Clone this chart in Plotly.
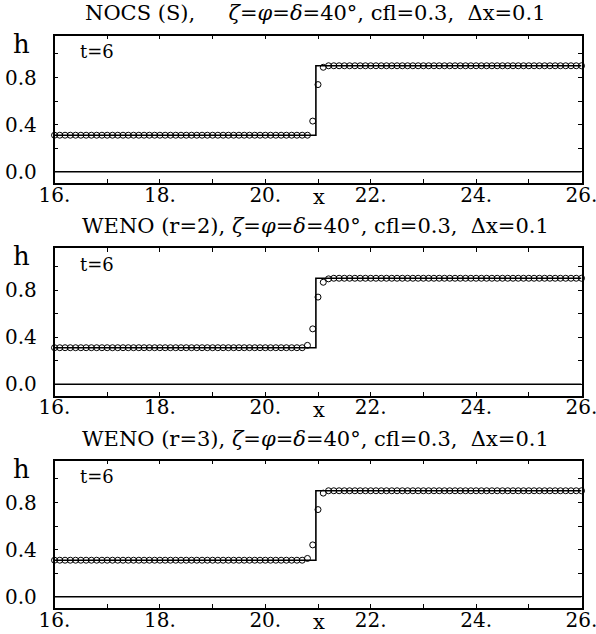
import numpy as np
import plotly.graph_objects as go

# ---- data -------------------------------------------------------------
x_nodes = [round(16.0 + 0.1 * i, 1) for i in range(101)]

h_left = 0.31
h_right = 0.90
x_shock = 20.96

# values of the numerical solution near the jump (other nodes sit on the plateaus)
jump_x = [20.8, 20.9, 21.0, 21.1, 21.2]
nocs_jump = [0.31, 0.43, 0.74, 0.887, 0.90]
weno2_jump = [0.33, 0.47, 0.74, 0.866, 0.895]
weno3_jump = [0.325, 0.44, 0.74, 0.88, 0.90]

titles = [
    "NOCS (S),\u00a0\u00a0\u00a0\u00a0 <i>ζ</i>=<i>φ</i>=<i>δ</i>=40°, cfl=0.3,\u00a0 Δx=0.1",
    "WENO (r=2), <i>ζ</i>=<i>φ</i>=<i>δ</i>=40°, cfl=0.3,\u00a0 Δx=0.1",
    "WENO (r=3), <i>ζ</i>=<i>φ</i>=<i>δ</i>=40°, cfl=0.3,\u00a0 Δx=0.1",
]
time_label = "t=6"

x_tickvals = list(range(16, 27))
x_ticktext = ["16.", "", "18.", "", "20.", "", "22.", "", "24.", "", "26."]
y_tickvals = [0.0, 0.2, 0.4, 0.6, 0.8, 1.0]
y_ticktext = ["0.0", "", "0.4", "", "0.8", ""]

exact_x = [16.0, x_shock, x_shock, 26.0]
exact_h = [h_left, h_left, h_right, h_right]


def numeric_profile(jump_vals):
    out = []
    for xv in x_nodes:
        if xv in jump_x:
            out.append(jump_vals[jump_x.index(xv)])
        elif xv < jump_x[0]:
            out.append(h_left)
        else:
            out.append(h_right)
    return out


series = [numeric_profile(nocs_jump), numeric_profile(weno2_jump), numeric_profile(weno3_jump)]

# ---- layout geometry (pixels of a 596x634 page) -----------------------
W, H = 596, 634
left_px, right_px = 54.5, 581.5
panel_top = [35.5, 248.0, 460.5]
panel_h = 147.5

FONT = "DejaVu Serif"

fig = go.Figure()
annotations = []

for k in range(3):
    xa = "x" if k == 0 else f"x{k+1}"
    ya = "y" if k == 0 else f"y{k+1}"
    # exact solution
    fig.add_trace(go.Scatter(x=exact_x, y=exact_h, mode="lines",
                             line=dict(color="black", width=1.6),
                             xaxis=xa, yaxis=ya, showlegend=False, hoverinfo="skip"))
    # bed line h = 0
    fig.add_trace(go.Scatter(x=[16.0, 26.0], y=[0.0, 0.0], mode="lines",
                             line=dict(color="black", width=1.6),
                             xaxis=xa, yaxis=ya, showlegend=False, hoverinfo="skip"))
    # numerical solution
    fig.add_trace(go.Scatter(x=x_nodes, y=series[k], mode="markers",
                             marker=dict(symbol="circle-open", size=6,
                                         color="black", line=dict(width=1, color="black")),
                             cliponaxis=False,
                             xaxis=xa, yaxis=ya, showlegend=False))

    top = panel_top[k]
    bot = top + panel_h
    dom_y = [1 - bot / H, 1 - top / H]
    axis_common = dict(showline=True, linecolor="black", linewidth=1.5, mirror="ticks",
                       ticks="inside", ticklen=4, tickwidth=1, tickcolor="black",
                       showgrid=False, zeroline=False, automargin=False,
                       ticklabeloverflow="allow",
                       tickfont=dict(family=FONT, size=20, color="black"))
    fig.update_layout(**{
        ("xaxis" if k == 0 else f"xaxis{k+1}"): dict(
            domain=[left_px / W, right_px / W], range=[16, 26], anchor=ya,
            tickvals=x_tickvals, ticktext=x_ticktext, ticklabelstandoff=-7, **axis_common),
        ("yaxis" if k == 0 else f"yaxis{k+1}"): dict(
            domain=dom_y, range=[-0.096, 1.157], anchor=xa,
            tickvals=y_tickvals, ticktext=y_ticktext, ticklabelstandoff=12, **axis_common),
    })

    annotations.append(dict(text=titles[k], x=315 / W, y=1 - (top - 22) / H,
                            xref="paper", yref="paper", showarrow=False,
                            xanchor="center", yanchor="middle",
                            font=dict(family=FONT, size=21, color="black")))
    annotations.append(dict(text="h", x=21 / W, y=1 - (top + 8) / H,
                            xref="paper", yref="paper", showarrow=False,
                            xanchor="center", yanchor="middle",
                            font=dict(family=FONT, size=26, color="black")))
    annotations.append(dict(text=time_label, x=97 / W, y=1 - (top + 16) / H,
                            xref="paper", yref="paper", showarrow=False,
                            xanchor="center", yanchor="middle",
                            font=dict(family=FONT, size=18, color="black")))
    annotations.append(dict(text="x", x=319 / W, y=1 - (bot + 14) / H,
                            xref="paper", yref="paper", showarrow=False,
                            xanchor="center", yanchor="middle",
                            font=dict(family=FONT, size=21, color="black")))

fig.update_layout(width=W, height=H, margin=dict(l=0, r=0, t=0, b=0),
                  paper_bgcolor="white", plot_bgcolor="white",
                  annotations=annotations)

fig.write_html("out.html")
